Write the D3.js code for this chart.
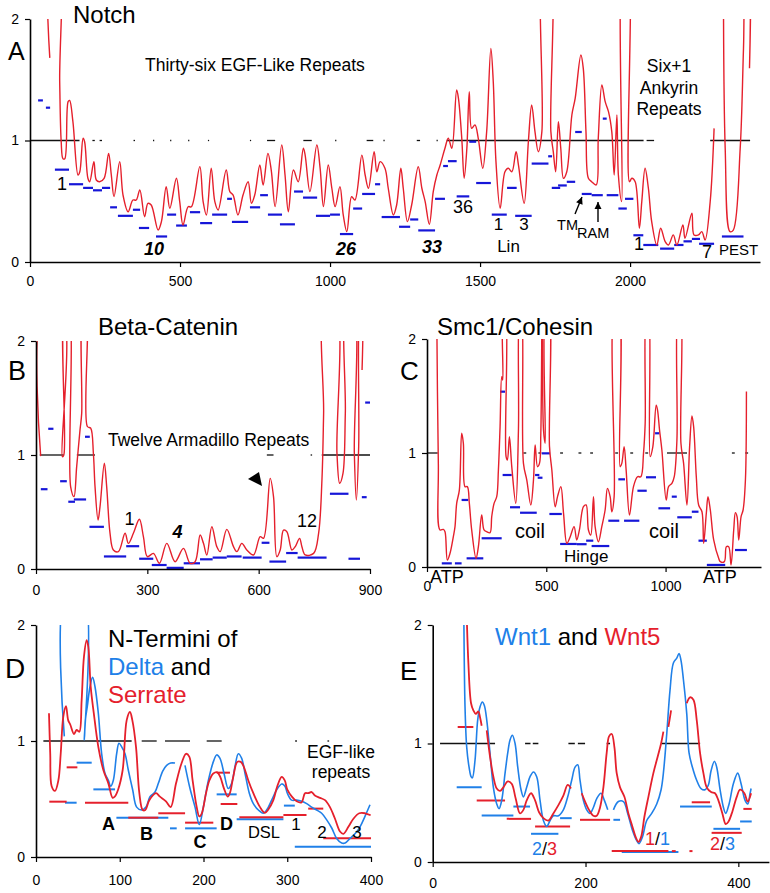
<!DOCTYPE html>
<html><head><meta charset="utf-8">
<script src="https://cdn.jsdelivr.net/npm/d3@7"></script>
<style>
body{margin:0;background:#fff;}
text{font-family:"Liberation Sans",Arial,Helvetica,sans-serif;}
</style></head><body>
<script>
// ---------------- DATA ----------------
// Panel A: Notch
const notchTicks = [0,500,1000,1500,2000];
const notchCurve = [[66,1.68],[69,2.6],[93,2.6],[99,1.48],[104,0.99],[110,0.85],[116,0.85],[127,1.32],[132,1.33],[143,1.155],[160,0.716],[166,0.743],[177,1.018],[182,0.99],[193,0.689],[199,0.661],[213,0.826],[221,0.675],[232,0.661],[247,0.689],[262,0.894],[271,0.716],[280,0.538],[299,0.826],[310,0.551],[327,0.414],[343,0.510],[354,0.510],[366,0.593],[382,0.373],[393,0.483],[404,0.469],[427,0.263],[438,0.332],[454,0.620],[466,0.442],[488,0.689],[499,0.497],[510,0.305],[527,0.455],[538,0.455],[566,0.785],[577,0.497],[588,0.387],[604,0.771],[616,0.497],[627,0.428],[654,0.757],[666,0.579],[677,0.551],[693,0.387],[710,0.551],[727,0.661],[738,0.483],[749,0.551],[766,0.798],[777,0.634],[793,0.894],[804,0.757],[817,0.456],
[839,0.963],[850,0.716],[861,0.414],[878,0.757],[894,0.661],[911,0.936],[917,0.880],[933,0.579],[956,0.963],[967,0.771],[978,0.456],[994,0.798],[1006,0.607],[1017,0.456],[1033,0.620],[1044,0.387],[1056,0.250],[1072,0.538],[1083,0.510],[1106,0.880],[1117,0.716],[1128,0.607],[1147,0.908],[1156,0.743],[1167,0.826],[1183,0.771],[1194,0.607],[1211,0.387],[1222,0.469],[1236,0.771],[1244,0.607],[1258,0.332],[1272,0.469],[1294,0.784],[1306,0.607],[1317,0.497],[1331,0.310],[1344,0.579],[1356,0.716],[1367,0.798],[1383,0.936],[1394,1.018],[1406,0.936],[1422,1.416],[1428,1.347],[1439,1.018],[1447,0.689],[1456,0.936],[1464,1.402],[1472,1.100],[1483,1.128],[1494,1.018],[1509,0.771],[1522,1.073],[1536,1.758],[1544,1.484],[1553,0.826],[1567,0.442],[1583,0.743],[1594,0.771],[1606,0.743],[1620,0.908],
[1628,0.798],[1647,0.483],[1661,0.99],[1672,1.292],[1683,1.073],[1694,0.908],[1706,1.073],[1713,2.6],[1731,2.6],[1736,1.073],[1744,0.908],[1752,0.743],[1761,1.155],[1769,0.936],[1778,0.689],[1789,0.743],[1806,1.210],[1817,1.347],[1836,1.704],[1844,1.594],[1853,1.073],[1861,0.689],[1872,0.661],[1887,0.634],[1894,1.018],[1906,1.457],[1917,1.32],[1928,1.237],[1939,1.073],[1947,0.716],[1956,1.210],[1961,0.716],[1972,0.497],[1980,2.6],[1991,2.6],[1998,0.661],[2006,0.689],[2017,0.661],[2031,0.278],[2039,0.497],[2050,0.771],[2061,0.607],[2072,0.332],[2089,0.140],[2102,0.278],[2117,0.168],[2128,0.140],[2144,0.223],[2156,0.140],[2176,0.305],[2183,0.195],[2206,0.401],[2213,0.223],[2228,0.223],[2239,0.250],[2250,0.181],[2267,0.497],[2280,1.100],null,[2311,2.6],[2317,0.936],[2333,0.250],[2344,0.263],[2367,0.936],[2378,1.758],[2389,2.6],[2394,2.6],[2398,1.594]];
const notchBars = [[27,43,1.33],[53,67,1.27],[83,130,0.76],[130,177,0.64],[177,210,0.61],[210,240,0.59],[240,267,0.61],[267,290,0.45],[293,343,0.38],[343,367,0.43],[363,397,0.28],[420,457,0.21],[457,487,0.39],[487,523,0.30],[533,567,0.41],[567,607,0.32],[607,657,0.39],[657,673,0.52],[673,727,0.33],[733,767,0.45],[767,793,0.55],[793,840,0.39],[833,883,0.31],[880,910,0.58],[910,957,0.53],[953,1000,0.38],[1000,1033,0.39],[1033,1077,0.23],[1077,1107,0.44],[1107,1150,0.56],[1150,1167,0.64],[1172,1233,0.37],[1230,1267,0.29],[1267,1294,0.35],[1294,1350,0.26],[1350,1383,0.52],[1377,1393,0.79],[1393,1422,0.83],[1422,1464,0.54],[1464,1487,0.99],[1487,1536,0.65],[1539,1589,0.39],[1590,1622,0.61],[1617,1672,0.38],[1672,1728,0.81],[1727,1740,0.87],[1739,1767,0.61],[1760,1789,0.63],[1789,1817,0.66],[1817,1839,1.07],[1839,1872,0.56],[1872,1909,0.55],[1909,1922,1.18],[1922,1961,0.55],[1961,1989,0.44],[1983,2011,0.52],[2011,2044,0.22],[2044,2094,0.14],[2100,2147,0.11],[2147,2178,0.14],[2178,2206,0.17],[2206,2233,0.19],[2230,2280,0.15],[2306,2378,0.21]];
const notchRefSolid = [[0,165],[1389,2045],[2055,2080],[2267,2400]];
const notchRefDots = [[208,216],[232,240],[345,350],[410,414],[467,471],[527,531],[593,597],[733,737],[790,817],[911,939],[1017,1021],[1122,1144],[1178,1182],[1289,1300],[1355,1359]];

// Panel B: Beta-Catenin
const betaTicks = [0,300,600,900];
const betaCurve = [[12.6,0.99],[19.8,2.3],[69,2.3],[71,0.985],[75,1.0],[78,2.3],[87,2.3],[93.4,0.72],[102.4,0.635],[109.6,0.898],[118.6,1.22],[123.1,1.365],[127.6,2.3],[134.8,2.3],[138.4,1.25],[147.4,1.235],[154.6,1.015],[159.1,0.72],[167.2,0.43],[172.5,0.547],[184.2,0.928],[190.5,0.72],[199.5,0.313],[208.5,0.167],[222,0.152],[240,0.313],[249,0.225],[262.4,0.313],[278.6,0.436],[289.4,0.284],[300.2,0.108],[316.4,0.137],[332.6,0.05],[352.4,0.225],[374.8,0.064],[397.3,0.181],[415.3,0.05],[428.8,0.064],[442.3,0.298],[451.3,0.225],[460.3,0.123],[473.8,0.371],[487.2,0.196],[496.2,0.152],[514.2,0.348],[532.2,0.196],[541.2,0.152],[554.6,0.225],[568.1,0.167],[586.1,0.123],[604.1,0.284],[613.1,0.269],[631.1,0.795],[640,0.635],[649,0.108],[658,0.167],[667,0.34],[676,0.327],[689.5,0.167],[698.5,0.196],[710.2,0.269],[716.5,0.196],[725.5,0.123],[748,0.137],[761.5,0.313],[770.5,0.781],[775,1.365],[779.5,2.3],[806.5,2.3],[811,1.015],[818.2,0.752],[827.2,0.839],[833.5,1.365],[838,2.3],[854.2,2.3],[857.8,1.015],[863.2,0.605],[869.5,1.073],[874,2.3],[877,2.3],[878.6,1.746]];
const betaBars = [[13,31,0.70],[33,47,1.23],[65,83,0.77],[87,105,0.59],[102,135,0.61],[132,145,1.16],[144,183,0.37],[183,243,0.11],[243,278,0.20],[278,316,0.09],[312,352,0.035],[352,398,0.01],[398,442,0.05],[442,476,0.085],[476,514,0.10],[514,554,0.11],[557,608,0.10],[608,629,0.23],[629,674,0.065],[674,705,0.14],[705,783,0.10],[792,842,0.66],[842,873,0.09],[878,891,0.63],[887,900,1.46]];
const betaRefSolid = [[10,75],[110,159],[622,640],[770,905]];
const betaRefDots = [[740,744]];

// Panel C: Smc1/Cohesin
const smcTicks = [0,500,1000];
const smcCurve = [[40.5,2.3],[47.5,0.909],[54.5,0.325],[68.5,0.33],[75.5,0.31],[85.3,0.061],[96.5,0.12],[110.4,0.266],[117.4,0.354],[124.4,0.558],[135.6,0.675],[145.4,1.173],[152.4,1.085],[159.3,0.705],[169.1,0.705],[177.5,0.558],[187.3,0.325],[205.5,0.076],[215.4,0.178],[229.3,0.456],[239.1,0.325],[250.3,0.31],[264.3,0.301],[271.3,0.442],[281.1,0.558],[292.3,0.617],[299.3,0.851],[306.3,1.231],[313.3,1.67],[317.5,1.64],[320.3,2.3],[327.3,2.3],[331.5,0.968],[337.1,0.939],[345.5,1.143],[355.3,0.88],[372.1,0.558],[383.3,1.202],[390.3,2.3],[394.5,2.3],[404.3,0.909],[418.3,0.763],[435.1,0.544],[446.3,0.763],[453.3,1.07],[463.1,0.88],[471.5,0.909],[477.1,1.173],[482.7,2.3],[488.3,1.202],[495.3,1.085],[499.5,2.3],[509.3,2.3],[513.5,1.056],[523.3,0.851],[537.3,0.529],[547.1,0.617],[561.1,0.705],[572.3,0.471],[586.3,0.208],[600.3,0.266],[616.5,0.354],[627.7,0.237],[638.9,0.325],[655.7,0.529],[666.9,0.544],[676.7,0.325],[686.5,0.281],[697.7,0.617],[704.7,0.354],[718.7,0.222],[732.7,0.354],[746.6,0.5],[756.4,0.69],[767.6,0.617],[774.6,0.485],[784.4,0.617],[788.6,2.3],[802.5,2.3],[809.5,0.88],[816.5,0.909],[826.3,1.056],[834.7,0.851],[848.7,0.456],[865.5,0.705],[882.3,0.792],[896.3,0.792],[907.5,0.997],[914.5,1.26],[921.5,2.3],[927.1,2.3],[935.5,0.968],[946.7,1.056],[960.7,1.42],[966.3,1.377],[974.7,1.202],[984.5,1.026],[1002.7,0.588],[1012.6,0.705],[1026.6,0.734],[1036.4,0.792],[1047.6,1.114],[1054.6,2.3],[1061.6,2.3],[1064.4,1.085],[1075.6,0.909],[1089.6,0.544],[1100.8,1.056],[1110.6,1.324],[1117.6,1.231],[1128.8,0.792],[1138.6,0.544],[1152.6,0.485],[1159.6,0.208],[1170.8,0.471],[1177.8,0.617],[1187.6,0.5],[1201.7,0.237],[1222.6,0.076],[1229.6,0.047],[1246.4,0.047],[1254.8,0.178],[1264.6,0.178],[1274.4,0.018],[1285.6,0.325],[1292.7,0.477],[1299.7,0.442],[1306.7,0.237],[1316.5,0.442],[1324.9,0.5],[1334.7,0.763],[1338.9,1.54]];
const smcBars = [[62,104,0.032],[117,145,0.032],[145,173,0.588],[166,236,0.076],[229,313,0.252],[306,327,1.538],[317,355,0.807],[348,390,0.524],[390,460,0.476],[453,471,0.807],[464,484,0.783],[481,516,0.997],[513,565,0.465],[558,628,0.202],[628,669,0.2],[667,697,0.231],[690,764,0.184],[760,806,0.406],[802,830,0.769],[826,890,0.406],[882,921,0.669],[918,960,0.787],[956,974,1.173],[970,1019,0.515],[1026,1047,0.617],[1049,1110,0.436],[1110,1138,0.485],[1138,1173,0.231],[1173,1250,0.018],[1291,1341,0.149]];
const smcRefSolid = [[0,45],[1006,1090]];
const smcRefDots = [[404,416],[467,479],[558,570],[635,647],[684,696],[789,801],[852,864],[915,927],[1278,1290],[1334,1346]];

// Panel D: N-termini of Delta and Serrate
const dslTicks = [0,100,200,300,400];
const deltaCurve = [[33.8,1.04],[36.2,2.3],[56.1,2.3],[57.7,1.01],[58.9,1.18],[61.3,1.30],[64.5,1.47],[67.6,1.55],[70.4,1.47],[74.4,1.24],[78.4,0.89],[82.4,0.72],[86.4,0.66],[89.1,0.61],[92.3,0.66],[96.3,0.89],[99.1,0.98],[102.3,0.95],[106.3,0.89],[110.2,0.75],[115.4,0.58],[120.2,0.43],[126.2,0.405],[131.3,0.43],[136.1,0.52],[142.1,0.56],[146.1,0.635],[151.3,0.74],[156,0.79],[160.8,0.81],[166,0.81],null,[177.9,0.79],[183.9,0.59],[189.9,0.43],[195,0.28],[199.8,0.43],[205.8,0.66],[211.7,0.82],[215.7,0.88],[219.7,0.85],[224.5,0.72],[229.6,0.59],[233.6,0.635],[237.6,0.78],[241.6,0.89],[245.6,0.85],[249.6,0.72],[254.7,0.55],[259.5,0.46],[265.5,0.405],[271.4,0.377],[275.4,0.405],[281.4,0.49],[287.4,0.58],[293.4,0.63],[297.3,0.61],[300.1,0.55],[305.3,0.49],[311.2,0.49],[317.2,0.48],[323.2,0.46],[329.2,0.43],[335.1,0.405],[341.1,0.377],[347.1,0.32],[353.1,0.25],[359,0.16],[365,0.12],[369,0.12],[374.9,0.16],[380.9,0.20],[386.9,0.26],[392.8,0.35],[398.8,0.45]];
const serrateCurve = [[15.5,1.24],[17,0.89],[18.7,0.61],[22.7,0.57],[26.7,0.66],[29.5,0.89],[32.6,1.21],[35.8,1.30],[38.4,1.18],[41,1.14],[45.4,1.06],[48.5,1.095],[51.7,1.08],[54.5,1.35],[57.3,1.73],[60.5,1.87],[62.5,1.81],[65.3,1.47],[69,1.24],[74.4,0.95],[80.4,0.75],[86.4,0.635],[91.5,0.51],[94,0.52],[98,0.58],[103.5,0.75],[108.3,1.18],[112.2,1.25],[115,1.18],[119.4,0.95],[123.4,0.55],[127.4,0.405],[130.5,0.405],[135.3,0.49],[143.3,0.55],[148,0.52],[155.2,0.48],[160.8,0.43],[167.2,0.635],[173.9,0.81],[179.1,0.89],[183,0.865],[187,0.66],[191.9,0.43],[195,0.35],[198,0.377],[203,0.55],[207,0.66],[211.7,0.72],[216.5,0.73],[220,0.69],[224.5,0.59],[228.9,0.52],[231.5,0.55],[235.5,0.69],[240.4,0.82],[244.5,0.82],[248,0.78],[253.5,0.66],[259.5,0.55],[267.5,0.43],[273.4,0.38],[277,0.405],[283.4,0.49],[288.1,0.61],[293.4,0.69],[297,0.66],[300.1,0.58],[305.5,0.52],[311.2,0.48],[317,0.47],[321.2,0.55],[325,0.55],[329.2,0.56],[333,0.53],[339.1,0.51],[345.1,0.49],[351,0.43],[357,0.33],[363,0.22],[367,0.20],[373,0.26],[379,0.33],[386,0.377],[393,0.377],[399.6,0.36]];
const deltaBars = [[34.6,48.5,0.468],[48.5,66.5,0.813],[68.5,94.4,0.583],[96,158,0.339],[160,168,0.247],[178,215.7,0.247],[215.7,239.6,0.54],[239.6,295.4,0.325],[296,309,0.443],[309,400.7,0.089]];
const serrateBars = [[15.9,36.6,0.477],[36.6,49.4,0.773],[58.5,110.2,0.468],[110.2,146,0.339],[146,178,0.377],[178,211.7,0.296],[215.7,231.6,0.727],[220.5,240.4,0.457],[242.8,295.4,0.342],[295.4,323,0.362],[325,343,0.417],[343,401,0.161]];
const dslRefSolid = [[8.8,114.2],[126.2,144.1],[154,183.9],[203.8,221.7],[309.5,311.5],[348,350]];

// Panel E: Wnt1 and Wnt5
const wntTicks = [0,200,400];
const wnt1Curve = [[40.5,2.3],[42.3,1.31],[44.5,0.97],[47.6,0.80],[50.2,0.72],[51.9,0.71],[55.4,0.86],[58.9,1.20],[62,1.31],[65,1.35],[67.6,1.32],[70.7,1.20],[75,0.92],[79.4,0.63],[83.8,0.49],[86.8,0.45],[90.3,0.52],[94.7,0.75],[98.2,0.92],[101.2,1.03],[104.3,1.07],[107.8,1.0],[111.3,0.80],[115.6,0.61],[118.7,0.55],[123,0.63],[127.4,0.72],[131.8,0.76],[136.1,0.72],[140.5,0.52],[144.9,0.35],[149.2,0.30],[153.6,0.35],[157.9,0.39],[164.5,0.39],[171,0.44],[176.7,0.55],[181.9,0.69],[186.3,0.80],[189.8,0.82],[192.8,0.69],[197.2,0.52],[201.6,0.44],[205.9,0.41],[210.3,0.46],[214.7,0.535],[220.3,0.58],[224.7,0.52],[229.1,0.44],null,[236.5,0.44],[243,0.51],[249.6,0.51],[255.2,0.41],[261.3,0.27],[267,0.18],[270,0.155],[274.4,0.21],[280.1,0.35],[286.6,0.41],[293.2,0.49],[298.9,0.61],[301.9,0.75],[306.3,1.08],[310.6,1.45],[315,1.68],[319.4,1.72],[322.4,1.76],[325,1.70],[328.1,1.54],[332.5,1.25],[335.5,0.92],[339.9,0.80],[345.5,0.69],[351.2,0.62],[356.5,0.61],[360.8,0.65],[364.3,0.77],[368.7,0.85],[371.7,0.80],[376.1,0.61],[380.5,0.46],[383.5,0.41],[387.9,0.49],[393.5,0.66],[399.2,0.75],[403.6,0.66],[408.8,0.52],[412.3,0.49],[415.4,0.58],[416.7,0.62]];
const wnt5Curve = [[43.6,2.3],[46.7,1.68],[50.2,1.34],[53.2,1.28],[56.3,1.25],[59.8,1.27],[62,1.22],[64.1,1.15],null,[70.7,1.11],[75,0.89],[79.4,0.72],[83.8,0.62],[88.1,0.60],[92.5,0.63],[98.2,0.68],[103.4,0.66],[108.6,0.535],[114.3,0.41],[118.7,0.44],[123,0.52],[128.7,0.58],[134,0.52],[139.2,0.42],[144.9,0.37],[151.4,0.35],[157.9,0.41],[164.5,0.48],[171,0.56],[176.7,0.65],[181,0.62],null,[195,0.58],[199.4,0.51],[204.6,0.44],[210.3,0.39],[214.7,0.39],[219,0.46],[223.4,0.63],[227.7,0.92],[230.8,1.06],[234.3,1.08],[237.8,0.97],[240.8,0.75],[245.2,0.63],[250.9,0.55],[256.1,0.41],[261.3,0.30],[265.7,0.21],[269.2,0.17],[272.7,0.21],[277,0.38],[282.3,0.55],[288.8,0.75],[294.5,0.89],[298.9,1.0],[301.9,1.10],null,[308.5,1.14],[312,1.28],null,[332.5,1.34],[336.8,1.39],[341.2,1.37],[345.5,1.20],[349.9,0.92],[354.3,0.75],[358.6,0.63],[364.3,0.59],[369.5,0.58],[373.9,0.52],[379.1,0.41],[383.5,0.32],[387,0.34],[391.4,0.41],[397.9,0.55],[402.3,0.61],[407.9,0.58],[412.3,0.51],[416.7,0.58]];
const wnt1Bars = [[31.4,64.1,0.63],[64.1,105.6,0.392],[105.6,127.4,0.468],[128.7,164.5,0.238],[166.7,181.9,0.37],[236.5,245.2,0.356],[247.4,321.6,0.084],[323.7,365.2,0.468],[367.4,402.3,0.28],[402.3,417.5,0.342]];
const wnt5Bars = [[32.7,53.2,1.14],[57.6,94.7,0.518],[96.9,128.7,0.364],[134,179.8,0.30],[192.8,232.1,0.356],[234.3,308.5,0.092],[313,318,0.092],[336,340,0.092],[339,363,0.504],[365,404.4,0.246],[406.6,417.5,0.448]];
const wntRefSolid = [[9.6,81.6],[120.9,128],[131,138.3],[177.6,186],[190,199.4],[227.7,232.1],[299.7,350]];

// ---------------- DRAW ----------------
const RED="#e5202c", BLUE="#1616d8", LBLUE="#2080e8", BLACK="#111";
const svg=d3.select("body").append("svg").attr("width",770).attr("height",893);
const defs=svg.append("defs");

function panel(p){
  const x=d3.scaleLinear().domain(p.xd).range(p.xr);
  const y=d3.scaleLinear().domain([0,2]).range(p.yr);
  const g=svg.append("g");
  const cid="clip"+p.id;
  defs.append("clipPath").attr("id",cid).append("rect")
    .attr("x",p.xr[0]).attr("y",p.yr[1]).attr("width",p.xr[1]-p.xr[0]).attr("height",p.yr[0]-p.yr[1]);
  const plot=g.append("g").attr("clip-path",`url(#${cid})`);
  const xa=g.append("g").attr("transform",`translate(0,${p.yr[0]})`)
    .call(d3.axisBottom(x).tickValues(p.ticks).tickFormat(d3.format("d")).tickSize(5).tickPadding(p.xpad).tickSizeOuter(0));
  const ya=g.append("g").attr("transform",`translate(${p.xr[0]},0)`)
    .call(d3.axisLeft(y).tickValues([0,1,2]).tickFormat(d3.format("d")).tickSize(5).tickPadding(6).tickSizeOuter(0));
  [xa,ya].forEach(a=>{
    a.select(".domain").attr("stroke","#000").attr("stroke-width",1.6);
    a.selectAll(".tick line").attr("stroke","#000").attr("stroke-width",1.2);
    a.selectAll("text").attr("font-size",14).attr("fill","#000").attr("font-family","Liberation Sans, Arial, sans-serif");
  });
  return {x,y,g,plot};
}
function refLine(P,solid,dots){
  const {x,y,plot}=P;
  plot.selectAll(null).data(solid.concat(dots||[])).enter().append("line")
    .attr("x1",d=>x(d[0])).attr("x2",d=>x(d[1])).attr("y1",y(1)).attr("y2",y(1))
    .attr("stroke",BLACK).attr("stroke-width",1.3);
}
function bars(P,data,color,w){
  const {x,y,plot}=P;
  plot.selectAll(null).data(data).enter().append("line")
    .attr("x1",d=>x(d[0])).attr("x2",d=>x(d[1])).attr("y1",d=>y(d[2])).attr("y2",d=>y(d[2]))
    .attr("stroke",color).attr("stroke-width",w||2.2);
}
function curve(P,data,color,w){
  const {x,y,plot}=P;
  const line=d3.line().defined(d=>d!==null).x(d=>x(d[0])).y(d=>y(d[1])).curve(d3.curveCatmullRom.alpha(0.5));
  plot.append("path").attr("d",line(data)).attr("fill","none").attr("stroke",color)
    .attr("stroke-width",w||1.4).attr("stroke-linejoin","round");
}
function txt(x,y,s,opt){
  opt=opt||{};
  const t=svg.append("text").attr("x",x).attr("y",y).text(s)
    .attr("font-size",opt.size||18).attr("fill",opt.color||"#000")
    .attr("text-anchor",opt.anchor||"start");
  if(opt.bold) t.attr("font-weight","bold");
  if(opt.italic) t.attr("font-style","italic");
  return t;
}
function multi(x,y,parts,size,anchor){
  const t=svg.append("text").attr("x",x).attr("y",y).attr("font-size",size).attr("text-anchor",anchor||"start");
  parts.forEach(p=>t.append("tspan").attr("fill",p[1]).text(p[0]));
  return t;
}
function arrow(x1,y1,x2,y2){
  svg.append("line").attr("x1",x1).attr("y1",y1).attr("x2",x2).attr("y2",y2).attr("stroke","#000").attr("stroke-width",1.4);
  const a=Math.atan2(y2-y1,x2-x1), L=7, W=3.5;
  const bx=x2-L*Math.cos(a), by=y2-L*Math.sin(a);
  svg.append("polygon").attr("points",[[x2,y2],[bx+W*Math.sin(a),by-W*Math.cos(a)],[bx-W*Math.sin(a),by+W*Math.cos(a)]].map(p=>p.join(",")).join(" ")).attr("fill","#000");
}

// Panel A
const PA=panel({id:"A",xd:[0,2433],xr:[30,760],yr:[262,19],ticks:notchTicks,xpad:9});
refLine(PA,notchRefSolid,notchRefDots);
bars(PA,notchBars,BLUE);
curve(PA,notchCurve,RED,1.4);
txt(73,23,"Notch",{size:24});
txt(8,60,"A",{size:25});
txt(145,71,"Thirty-six EGF-Like Repeats",{size:17.5});
txt(669,72,"Six+1",{size:17.5,anchor:"middle"});
txt(669,94,"Ankyrin",{size:17.5,anchor:"middle"});
txt(669,115,"Repeats",{size:17.5,anchor:"middle"});
txt(62,190,"1",{size:18,anchor:"middle"});
txt(154,255,"10",{size:18,anchor:"middle",bold:true,italic:true});
txt(346,255,"26",{size:18,anchor:"middle",bold:true,italic:true});
txt(432,253,"33",{size:18,anchor:"middle",bold:true,italic:true});
txt(463,213,"36",{size:18,anchor:"middle"});
txt(498.5,230,"1",{size:17,anchor:"middle"});
txt(524,230,"3",{size:17,anchor:"middle"});
txt(508.5,252,"Lin",{size:17,anchor:"middle"});
txt(578,230,"TM",{size:14.5,anchor:"end"});
txt(577,238,"RAM",{size:14.5});
txt(639,250,"1",{size:18,anchor:"middle"});
txt(707,258,"7",{size:18,anchor:"middle"});
txt(719,255,"PEST",{size:15});
arrow(575,214,582,197);
arrow(598,222,598,202);

// Panel B
const PB=panel({id:"B",xd:[0,900],xr:[36,370],yr:[569,341],ticks:betaTicks,xpad:11});
refLine(PB,betaRefSolid,betaRefDots);
bars(PB,betaBars,BLUE);
curve(PB,betaCurve,RED,1.4);
txt(98,335,"Beta-Catenin",{size:24});
txt(8,380,"B",{size:27});
txt(108,446,"Twelve Armadillo Repeats",{size:17.5});
txt(129.5,525,"1",{size:18,anchor:"middle"});
txt(177.5,538,"4",{size:18,anchor:"middle",bold:true,italic:true});
txt(307,527,"12",{size:18,anchor:"middle"});
svg.append("polygon").attr("points","248,479 259,472 262,486").attr("fill","#000");

// Panel C
const PC=panel({id:"C",xd:[0,1400],xr:[427,761],yr:[567,339],ticks:smcTicks,xpad:9});
refLine(PC,smcRefSolid,smcRefDots);
bars(PC,smcBars,BLUE);
curve(PC,smcCurve,RED,1.4);
txt(437,335,"Smc1/Cohesin",{size:24});
txt(400,380,"C",{size:26});
txt(515,538,"coil",{size:20});
txt(649,538,"coil",{size:20});
txt(564,562,"Hinge",{size:17});
txt(430,583,"ATP",{size:18});
txt(703,583,"ATP",{size:18});

// Panel D
const PD=panel({id:"D",xd:[0,400],xr:[36,371],yr:[857,625],ticks:dslTicks,xpad:13});
refLine(PD,dslRefSolid,[]);
bars(PD,deltaBars,LBLUE,2);
bars(PD,serrateBars,RED,2);
curve(PD,deltaCurve,LBLUE,1.6);
curve(PD,serrateCurve,RED,1.8);
txt(5,678,"D",{size:28});
txt(108,647,"N-Termini of",{size:24});
multi(108,675,[["Delta",LBLUE],[" and","#000"]],24);
txt(108,703,"Serrate",{size:24,color:RED});
txt(341,758,"EGF-like",{size:17.5,anchor:"middle"});
txt(341,778,"repeats",{size:17.5,anchor:"middle"});
txt(108.5,830,"A",{size:18,anchor:"middle",bold:true});
txt(146.5,840,"B",{size:18,anchor:"middle",bold:true});
txt(200,848,"C",{size:18,anchor:"middle",bold:true});
txt(226.5,830,"D",{size:18,anchor:"middle",bold:true});
txt(264,838,"DSL",{size:16.5,anchor:"middle"});
txt(296,830,"1",{size:17,anchor:"middle"});
txt(322,838,"2",{size:17,anchor:"middle"});
txt(357,838,"3",{size:17,anchor:"middle"});

// Panel E
const PE=panel({id:"E",xd:[0,440],xr:[432.7,768.9],yr:[862,625],ticks:wntTicks,xpad:11});
refLine(PE,wntRefSolid,[]);
bars(PE,wnt1Bars,LBLUE,2);
bars(PE,wnt5Bars,RED,2);
curve(PE,wnt1Curve,LBLUE,1.6);
curve(PE,wnt5Curve,RED,1.8);
txt(400,680,"E",{size:26});
multi(495,645,[["Wnt1",LBLUE],[" and ","#000"],["Wnt5",RED]],24);
multi(532,855,[["2",LBLUE],["/","#000"],["3",RED]],18);
multi(645,845,[["1",RED],["/","#000"],["1",LBLUE]],18);
multi(710,850,[["2",RED],["/","#000"],["3",LBLUE]],18);
</script></body></html>
